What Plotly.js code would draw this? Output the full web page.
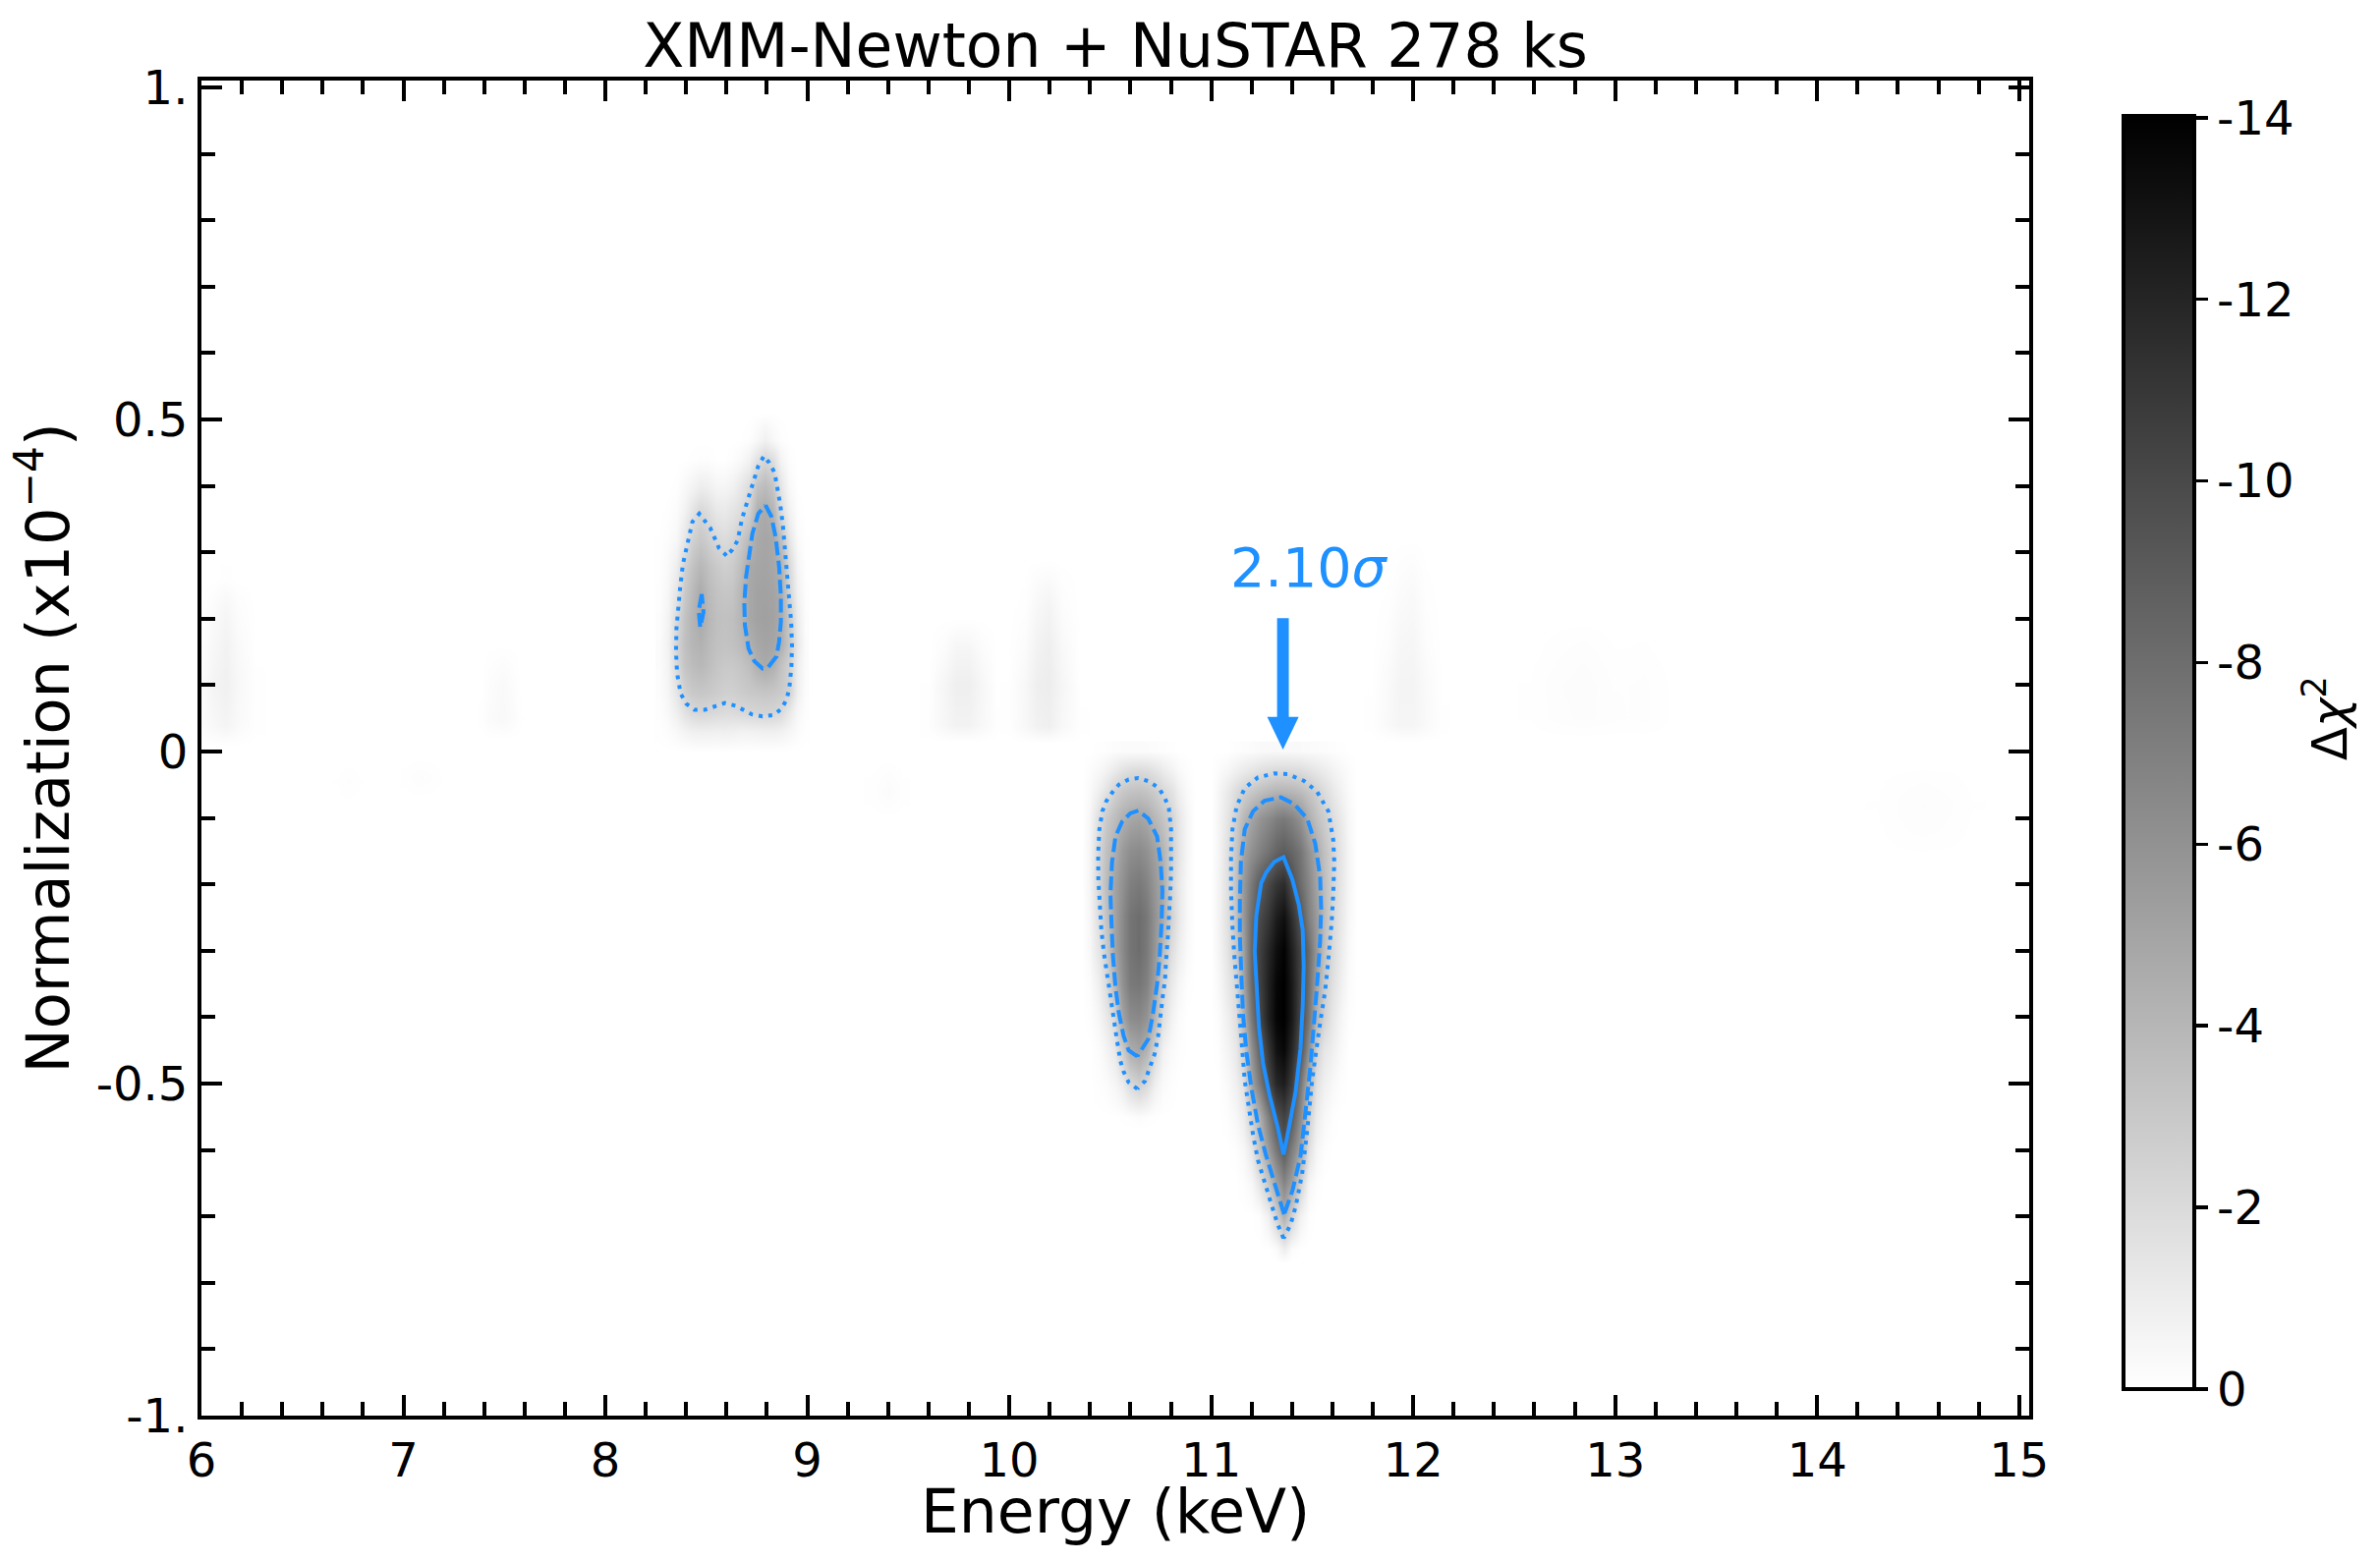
<!DOCTYPE html>
<html>
<head>
<meta charset="utf-8">
<script src="https://cdn.plot.ly/plotly-3.0.1.min.js"></script>
<style>html,body{margin:0;padding:0;background:#fff}</style>
</head>
<body>
<div id="myDiv" style="width:2422px;height:1589px"></div>
<script>
// delta chi2 patches, values are the size of the (negative) delta chi2
var pairX = [8.27,8.31,8.35,8.39,8.43,8.47,8.51,8.55,8.59,8.63,8.67,8.71,8.75,8.79,8.83,8.87,8.91,8.95,8.99];
var pairY = [0,0.03,0.06,0.09,0.13,0.16,0.20,0.24,0.28,0.32,0.36,0.40,0.44,0.47,0.51];
var pairZ = [
  [0,0,0,0,0,0,0,0,0,0,0,0,0,0,0,0,0,0,0],
  [.05,.15,.35,.6,.8,.85,.85,.8,.85,.8,.7,.7,.75,.8,.8,.7,.45,.2,.05],
  [.1,.35,.9,1.6,2.1,2.3,2.25,2.1,2.0,2.0,2.15,2.25,2.35,2.4,2.35,2.1,1.2,.4,.1],
  [.15,.5,1.4,2.5,3.0,3.1,3.0,2.8,2.6,2.6,2.8,3.0,3.1,3.2,3.1,2.9,2.4,.8,.15],
  [.2,.6,2.1,3.2,3.7,3.9,3.6,3.2,3.0,3.0,3.2,3.6,4.4,4.7,4.4,3.4,2.5,.9,.2],
  [.2,.7,2.3,3.4,4.0,4.2,3.8,3.4,3.3,3.4,3.7,4.3,4.8,5.0,4.9,4.4,3.0,1.2,.2],
  [.15,.6,2.1,3.3,4.1,4.65,4.0,3.5,3.4,3.5,4.0,4.8,5.1,5.2,5.1,4.6,2.9,1.0,.15],
  [.1,.4,1.4,2.9,3.8,4.55,3.8,3.3,3.1,3.2,3.9,4.8,5.1,5.1,5.0,4.6,2.3,.7,.1],
  [.05,.3,.9,2.4,3.3,3.9,3.4,2.9,2.6,2.8,3.5,4.7,4.9,5.0,4.8,4.3,2.0,.5,.05],
  [.03,.15,.4,1.3,2.5,3.0,2.6,2.1,1.9,2.2,2.9,3.8,4.7,4.9,4.75,3.5,1.3,.25,.03],
  [0,.05,.2,.7,1.5,2.25,1.9,1.3,1.2,1.5,1.9,2.6,4.4,4.65,4.2,2.0,.7,.1,0],
  [0,0,.05,.3,.6,.9,.8,.5,.5,.7,1.2,1.9,3.3,3.7,3.1,1.4,.3,0,0],
  [0,0,0,0,.05,.1,.1,0,0,.1,.3,.7,1.6,2.3,1.8,.6,.1,0,0],
  [0,0,0,0,0,0,0,0,0,0,0,.1,.4,.8,.4,.1,0,0,0],
  [0,0,0,0,0,0,0,0,0,0,0,0,0,0,0,0,0,0,0]
];

var leftX = [10.36,10.40,10.44,10.48,10.52,10.56,10.60,10.64,10.68,10.72,10.76,10.80,10.84,10.88,10.92];
var leftY = [-0.57,-0.55,-0.50,-0.45,-0.40,-0.35,-0.30,-0.25,-0.20,-0.15,-0.10,-0.06,-0.03,0];
var leftZ = [
  [0,0,0,0,0,0,0,0,0,0,0,0,0,0,0],
  [0,0,0,0,0,.05,.1,.2,.1,.05,0,0,0,0,0],
  [0,0,.1,.2,.5,1.0,2.1,2.7,2.1,.9,.3,.1,0,0,0],
  [0,0,.2,.6,1.2,2.8,4.5,5.0,4.2,2.3,.8,.3,.1,0,0],
  [0,.1,.5,1.2,2.1,5.0,6.3,6.5,5.9,4.1,1.8,.7,.2,0,0],
  [0,.2,.9,2.0,4.0,6.0,7.3,7.5,6.9,5.2,2.5,1.2,.5,.1,0],
  [0,.4,1.4,2.8,4.9,6.4,7.6,8.0,7.3,5.8,3.8,1.8,.9,.3,0],
  [0,.5,1.9,3.4,5.0,6.4,7.6,8.0,7.4,6.0,4.7,2.5,1.2,.4,0],
  [0,.6,2.3,3.7,5.0,6.0,7.0,7.3,6.8,5.7,4.7,2.4,1.2,.4,0],
  [0,.6,2.3,3.5,4.4,5.5,6.2,6.4,6.0,5.2,4.2,2.7,1.4,.5,0],
  [0,.5,1.8,2.9,3.6,4.3,4.8,5.0,4.7,3.9,3.2,2.4,1.3,.5,0],
  [0,.3,.9,1.6,2.5,3.0,3.3,3.4,3.2,2.8,2.2,1.6,.8,.3,0],
  [0,.15,.4,.7,1.1,1.6,1.9,2.0,1.9,1.5,1.1,.7,.3,.1,0],
  [0,0,.05,.1,.15,.2,.2,.2,.2,.15,.1,.05,0,0,0]
];

var mainX = [11.00,11.04,11.08,11.12,11.16,11.20,11.24,11.28,11.32,11.36,11.40,11.44,11.48,11.52,11.56,11.60,11.64,11.68,11.72];
var mainY = [-0.77,-0.75,-0.70,-0.65,-0.60,-0.55,-0.50,-0.45,-0.40,-0.35,-0.30,-0.25,-0.20,-0.15,-0.10,-0.06,-0.03,0];
var mainZ = [
  [0,0,0,0,0,0,0,0,0,0,0,0,0,0,0,0,0,0,0],
  [0,0,0,0,0,0,0,0,.15,.9,.15,0,0,0,0,0,0,0,0],
  [0,0,0,0,0,0,.1,.8,2.5,4.4,2.4,.7,.1,0,0,0,0,0,0],
  [0,0,0,0,.1,.4,1.4,3.0,5.0,6.6,5.2,2.4,.5,.1,0,0,0,0,0],
  [0,0,0,.1,.4,1.3,3.2,5.4,7.4,9.0,7.0,5.0,1.7,.5,.1,0,0,0,0],
  [0,0,.1,.4,1.0,2.6,4.3,7.0,9.4,10.4,9.0,6.2,2.7,1.0,.4,.1,0,0,0],
  [0,0,.3,.8,1.7,5.0,7.2,9.9,11.8,12.4,10.6,7.4,4.2,1.6,.8,.4,.1,0,0],
  [0,.1,.6,1.2,2.8,6.0,8.6,11.0,13.0,13.6,11.8,9.4,6.2,2.5,1.3,.9,.3,0,0],
  [0,.2,.9,1.7,4.2,7.4,10.0,12.2,13.7,14.0,12.6,10.0,7.6,4.0,2.4,1.3,.5,.1,0],
  [0,.4,1.3,2.1,5.0,8.2,10.4,12.2,13.6,14.0,12.6,10.2,8.0,5.0,2.8,1.7,.8,.2,0],
  [0,.6,1.6,3.0,5.2,8.4,10.4,11.9,13.2,13.9,12.2,10.2,8.2,5.6,3.4,2.0,1.0,.3,0],
  [0,.7,1.8,3.3,5.7,8.0,9.9,11.0,12.4,13.2,11.4,9.3,7.0,5.5,3.7,2.3,1.2,.4,0],
  [0,.7,1.8,3.4,5.6,7.4,8.9,10.0,11.0,11.6,9.7,8.0,6.6,5.0,3.6,2.4,1.3,.5,0],
  [0,.6,1.8,3.1,5.0,6.1,6.9,7.7,8.5,8.9,8.4,7.5,6.0,4.7,3.4,2.4,1.3,.5,0],
  [0,.6,1.5,2.6,3.9,5.0,5.8,6.4,7.0,7.3,6.8,5.9,4.4,3.4,2.7,1.9,1.1,.4,0],
  [0,.5,1.2,1.9,2.6,3.1,3.5,3.9,4.1,4.1,4.0,3.7,3.2,2.6,1.9,1.3,.7,.25,0],
  [0,.2,.45,.8,1.1,1.4,1.7,1.9,2.05,2.05,2.0,1.9,1.6,1.3,1.0,.7,.4,.15,0],
  [0,0,0,.1,.15,.2,.3,.35,.35,.35,.35,.3,.25,.2,.15,.1,.05,0,0]
];

// the faint patches
var faintAX = [6.0,6.06,6.12,6.18,6.27];
var faintAY = [0.01,0.04,0.10,0.16,0.22,0.26];
var faintAZ = [[0,0,0,0,0],[.15,.4,.6,.3,.05],[.2,.6,.8,.4,.05],[.1,.4,.7,.3,0],[0,.2,.45,.15,0],[0,0,.05,0,0]];
var faintBX = [7.39,7.43,7.49,7.54,7.58];
var faintBY = [0.02,0.05,0.10,0.16];
var faintBZ = [[0,0,0,0,0],[.05,.22,.35,.22,.03],[0,.15,.3,.15,0],[0,0,0,0,0]];
var faintCX = [9.60,9.68,9.74,9.80,9.86,9.94];
var faintCY = [0.015,0.04,0.10,0.15,0.20];
var faintCZ = [[0,0,0,0,0,0],[.08,.45,.7,.7,.4,.05],[.03,.5,.9,.9,.45,0],[0,.2,.55,.55,.2,0],[0,0,0,0,0,0]];
var faintDX = [10.00,10.08,10.14,10.20,10.26,10.35];
var faintDY = [0.015,0.04,0.10,0.16,0.22,0.29];
var faintDZ = [[0,0,0,0,0,0],[.05,.4,.75,.85,.4,.05],[.03,.4,.9,1.0,.5,0],[0,.2,.7,.9,.35,0],[0,.05,.4,.6,.15,0],[0,0,0,0,0,0]];
var faintEX = [11.80,11.88,11.94,12.00,12.06,12.14];
var faintEY = [0.015,0.04,0.10,0.16,0.24,0.32];
var faintEZ = [[0,0,0,0,0,0],[.05,.35,.55,.55,.3,.05],[.02,.3,.6,.6,.3,0],[0,.15,.45,.5,.15,0],[0,.03,.2,.3,.05,0],[0,0,0,0,0,0]];
var faintFX = [12.58,12.70,12.84,12.98,13.06,13.14,13.27];
var faintFY = [0.02,0.05,0.10,0.15,0.20];
var faintFZ = [[0,0,0,0,0,0,0],[.03,.1,.16,.1,.08,.1,.02],[.03,.12,.18,.08,.08,.1,.02],[0,.06,.12,.03,.03,.04,0],[0,0,0,0,0,0,0]];
var faintGX = [6.68,6.73,6.78];
var faintGY = [-0.08,-0.045,-0.015];
var faintGZ = [[0,0,0],[.03,.1,.03],[0,0,0]];
var faintHX = [7.02,7.08,7.13,7.19];
var faintHY = [-0.07,-0.04,-0.01];
var faintHZ = [[0,0,0,0],[.05,.15,.1,.02],[0,0,0,0]];
var faintIX = [9.32,9.40,9.47];
var faintIY = [-0.10,-0.06,-0.012];
var faintIZ = [[0,0,0],[.05,.2,.05],[0,0,0]];
var faintJX = [14.30,14.42,14.52,14.64,14.77];
var faintJY = [-0.16,-0.12,-0.08,-0.045,-0.02];
var faintJZ = [[0,0,0,0,0],[.01,.07,.1,.07,.01],[.03,.1,.14,.1,.03],[.01,.06,.08,.06,.01],[0,0,0,0,0]];

// contours, energy and normalization
var outerPairX = [8.600,8.563,8.519,8.465,8.431,8.409,8.384,8.371,8.360,8.352,8.350,8.355,8.373,8.401,8.441,8.493,8.542,8.590,8.644,8.688,8.725,8.778,8.834,8.874,8.898,8.911,8.921,8.924,8.920,8.911,8.903,8.895,8.886,8.879,8.866,8.855,8.838,8.811,8.785,8.756,8.725,8.697,8.676,8.655,8.629,8.600];
var outerPairY = [.295,.306,.337,.358,.346,.314,.282,.249,.217,.185,.150,.118,.087,.072,.063,.063,.068,.073,.069,.062,.056,.053,.055,.065,.079,.096,.127,.160,.195,.226,.259,.293,.323,.340,.372,.390,.420,.435,.445,.429,.398,.366,.350,.318,.304,.295];
var midSmallX = [8.477,8.462,8.470,8.486,8.477];
var midSmallY = [.237,.212,.187,.210,.237];
var midPairX = [8.793,8.822,8.843,8.860,8.869,8.869,8.860,8.847,8.806,8.778,8.738,8.709,8.691,8.688,8.697,8.712,8.728,8.757,8.793];
var midPairY = [.371,.354,.323,.279,.234,.195,.165,.143,.127,.125,.136,.155,.190,.224,.264,.293,.328,.358,.371];
var outerLeftX = [10.634,10.591,10.566,10.550,10.534,10.518,10.501,10.485,10.469,10.456,10.448,10.441,10.440,10.446,10.461,10.480,10.509,10.542,10.591,10.639,10.693,10.740,10.769,10.790,10.801,10.803,10.801,10.797,10.793,10.785,10.777,10.771,10.761,10.749,10.737,10.720,10.696,10.672,10.634];
var outerLeftY = [-.508,-.498,-.482,-.466,-.436,-.404,-.369,-.336,-.304,-.269,-.236,-.193,-.155,-.117,-.090,-.075,-.062,-.050,-.042,-.040,-.045,-.055,-.069,-.085,-.117,-.150,-.182,-.215,-.247,-.279,-.312,-.344,-.366,-.393,-.428,-.455,-.477,-.496,-.508];
var midLeftX = [10.634,10.591,10.566,10.542,10.526,10.513,10.506,10.501,10.509,10.526,10.558,10.599,10.639,10.688,10.732,10.749,10.758,10.754,10.745,10.732,10.712,10.688,10.634];
var midLeftY = [-.459,-.450,-.428,-.393,-.355,-.306,-.258,-.215,-.166,-.128,-.106,-.093,-.089,-.101,-.128,-.166,-.209,-.258,-.306,-.350,-.393,-.433,-.459];
var outerMainX = [11.358,11.329,11.296,11.264,11.231,11.207,11.183,11.166,11.153,11.139,11.126,11.114,11.105,11.098,11.098,11.105,11.126,11.166,11.231,11.312,11.377,11.458,11.523,11.580,11.604,11.609,11.604,11.596,11.580,11.564,11.539,11.523,11.499,11.475,11.450,11.418,11.393,11.358];
var outerMainY = [-.733,-.712,-.680,-.650,-.615,-.577,-.534,-.496,-.447,-.398,-.355,-.306,-.263,-.209,-.160,-.117,-.082,-.055,-.039,-.033,-.034,-.044,-.060,-.090,-.133,-.166,-.215,-.258,-.312,-.360,-.409,-.447,-.496,-.571,-.636,-.685,-.712,-.733];
var midMainX = [11.361,11.320,11.272,11.231,11.199,11.174,11.158,11.150,11.142,11.142,11.147,11.166,11.207,11.264,11.345,11.410,11.475,11.515,11.539,11.544,11.539,11.523,11.507,11.491,11.466,11.442,11.402,11.361];
var midMainY = [-.697,-.658,-.609,-.561,-.507,-.452,-.398,-.344,-.279,-.225,-.166,-.117,-.090,-.074,-.069,-.079,-.101,-.139,-.188,-.236,-.285,-.355,-.420,-.474,-.544,-.609,-.661,-.697];
var innerMainX = [11.358,11.329,11.288,11.256,11.236,11.223,11.215,11.223,11.247,11.272,11.312,11.358,11.402,11.434,11.453,11.458,11.453,11.442,11.418,11.385,11.358];
var innerMainY = [-.607,-.566,-.517,-.469,-.415,-.355,-.301,-.247,-.198,-.182,-.166,-.159,-.193,-.231,-.269,-.323,-.382,-.447,-.512,-.566,-.607];

// arrow outline
var arrowX = [11.326,11.384,11.384,11.433,11.355,11.277,11.326,11.326];
var arrowY = [0.201,0.201,0.052,0.052,0.003,0.052,0.052,0.201];

var xTicks = [6,7,8,9,10,11,12,13,14,15];
var yTicks = [-1,-0.5,0,0.5,1];
var yTickText = ["-1.","-0.5","0","0.5","1."];
var barTicks = [0,2,4,6,8,10,12,14];
var barTickText = ["0","-2","-4","-6","-8","-10","-12","-14"];

var BLUE = "#1E90FF";
var FONT = "DejaVu Sans";

function patch(x, y, z, withBar)
{
    var trace = {
        type: "heatmap",
        x: x, y: y, z: z,
        zmin: 0, zmax: 14.02,
        zsmooth: "best",
        colorscale: [[0, "#ffffff"], [1, "#000000"]],
        hoverinfo: "skip",
        showscale: !!withBar
    };
    if (withBar) {
        trace.colorbar = {
            x: (2161 - 205) / 1860, xanchor: "left", xpad: 0,
            y: (1441 - 1414) / 1359, yanchor: "bottom", ypad: 0,
            lenmode: "pixels", len: 1296,
            thicknessmode: "pixels", thickness: 72,
            outlinewidth: 4, outlinecolor: "#000",
            tickmode: "array", tickvals: barTicks, ticktext: barTickText,
            ticks: "outside", ticklen: 12, tickwidth: 3.5, tickcolor: "#000",
            tickfont: {family: FONT, size: 48, color: "#000"}
        };
    }
    return trace;
}

function contour(x, y, dash)
{
    return {
        type: "scatter", mode: "lines", x: x, y: y,
        line: {color: BLUE, width: 4, dash: dash},
        hoverinfo: "skip", showlegend: false
    };
}

var DOTTED = "4px,6px";
var DASHED = "14px,5.5px";

var data = [
    patch(mainX, mainY, mainZ, true),
    patch(pairX, pairY, pairZ),
    patch(leftX, leftY, leftZ),
    patch(faintAX, faintAY, faintAZ),
    patch(faintBX, faintBY, faintBZ),
    patch(faintCX, faintCY, faintCZ),
    patch(faintDX, faintDY, faintDZ),
    patch(faintEX, faintEY, faintEZ),
    patch(faintFX, faintFY, faintFZ),
    patch(faintGX, faintGY, faintGZ),
    patch(faintHX, faintHY, faintHZ),
    patch(faintIX, faintIY, faintIZ),
    patch(faintJX, faintJY, faintJZ),
    contour(outerPairX, outerPairY, DOTTED),
    contour(midSmallX, midSmallY, DASHED),
    contour(midPairX, midPairY, DASHED),
    contour(outerLeftX, outerLeftY, DOTTED),
    contour(midLeftX, midLeftY, DASHED),
    contour(outerMainX, outerMainY, DOTTED),
    contour(midMainX, midMainY, DASHED),
    contour(innerMainX, innerMainY, "solid"),
    {
        type: "scatter", mode: "lines", x: arrowX, y: arrowY,
        fill: "toself", fillcolor: BLUE, line: {color: BLUE, width: 0},
        hoverinfo: "skip", showlegend: false
    }
];

function axisBase()
{
    return {
        showgrid: false, zeroline: false,
        showline: true, linecolor: "#000", linewidth: 4,
        mirror: "ticks",
        ticks: "inside", ticklen: 21, tickwidth: 4, tickcolor: "#000",
        tickmode: "array",
        tickfont: {family: FONT, size: 48, color: "#000"}
    };
}

var xaxis = axisBase();
xaxis.range = [6, 15.05];
xaxis.tickvals = xTicks;
xaxis.ticktext = xTicks.map(String);
xaxis.minor = {ticks: "inside", ticklen: 14, tickwidth: 4, tickcolor: "#000", tickmode: "linear", tick0: 6, dtick: 0.2};

var yaxis = axisBase();
yaxis.range = [-1, 1.0104];
yaxis.tickvals = yTicks;
yaxis.ticktext = yTickText;
yaxis.minor = {ticks: "inside", ticklen: 14, tickwidth: 4, tickcolor: "#000", tickmode: "linear", tick0: -1, dtick: 0.1};
yaxis.title = {text: "Normalization (x10<sup>\u22124</sup>)", font: {family: FONT, size: 60.5, color: "#000"}, standoff: 9};

var layout = {
    width: 2422, height: 1589,
    margin: {l: 205, r: 357, t: 82, b: 148, pad: 0},
    paper_bgcolor: "#fff", plot_bgcolor: "#fff",
    showlegend: false,
    font: {family: FONT, color: "#000"},
    title: {
        text: "XMM-Newton + NuSTAR 278 ks",
        font: {family: FONT, size: 61.5, color: "#000"},
        xref: "paper", x: 0.5, xanchor: "center",
        yref: "container", y: 1 - 46 / 1589, yanchor: "middle"
    },
    xaxis: xaxis,
    yaxis: yaxis,
    annotations: [
        {
            // x axis title, the axis own title will not sit close enough to the labels
            xref: "paper", yref: "paper", x: 0.5, y: (1441 - 1539) / 1359,
            xanchor: "center", yanchor: "middle",
            text: "Energy (keV)", showarrow: false,
            font: {family: FONT, size: 61.5, color: "#000"}
        },
        {
            xref: "x", yref: "y", x: 11.484, y: 0.278,
            text: "2.10<i>\u03c3</i>", showarrow: false,
            font: {family: FONT, size: 55.5, color: BLUE}
        },
        {
            xref: "paper", yref: "paper", x: 1.1816, y: 0.5225,
            text: "\u0394<i>\u03c7</i><sup>2</sup>", showarrow: false, textangle: -90,
            font: {family: FONT, size: 50, color: "#000"}
        }
    ]
};

Plotly.newPlot("myDiv", data, layout, {displayModeBar: false, staticPlot: true});
</script>
</body>
</html>
